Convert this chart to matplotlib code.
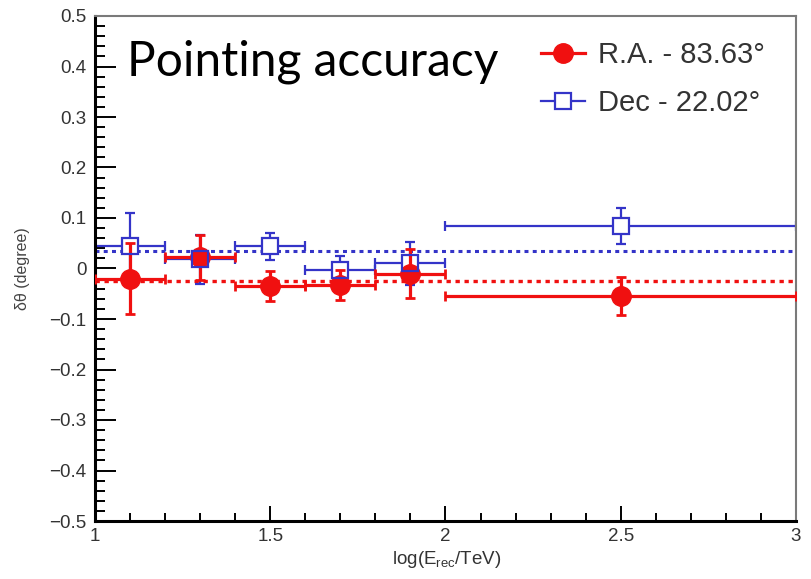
import matplotlib
matplotlib.use("Agg")
import matplotlib.pyplot as plt
from matplotlib.lines import Line2D
from matplotlib.ticker import MultipleLocator, FuncFormatter
import numpy as np

# Energy bins in log10(E_rec / TeV)
bin_lo = [1.0, 1.2, 1.4, 1.6, 1.8, 2.0]
bin_hi = [1.2, 1.4, 1.6, 1.8, 2.0, 3.0]
bin_mid = [1.1, 1.3, 1.5, 1.7, 1.9, 2.5]

# Pointing offsets (degrees)
ra_offset = [-0.020, 0.022, -0.035, -0.033, -0.010, -0.055]
ra_error = [0.070, 0.045, 0.030, 0.030, 0.048, 0.038]
dec_offset = [0.044, 0.018, 0.044, -0.003, 0.010, 0.084]
dec_error = [0.065, 0.049, 0.027, 0.027, 0.043, 0.035]

# Average offsets over all bins
ra_mean = -0.025
dec_mean = 0.034

ra_label = "R.A. - 83.63\u00b0"
dec_label = "Dec - 22.02\u00b0"

RED = "#f01010"
BLUE = "#3434c8"

plt.rcParams["font.family"] = ["Liberation Sans", "DejaVu Sans"]

fig = plt.figure(figsize=(8.12, 5.79), dpi=100)
ax = fig.add_axes([95 / 812, 1 - 521 / 579, 701 / 812, 505 / 579])

x = np.array(bin_mid)
xerr = [x - np.array(bin_lo), np.array(bin_hi) - x]

# mean offset lines
ax.plot([1, 3], [dec_mean, dec_mean], color=BLUE, lw=2.2, dashes=(1.3, 1.4), zorder=1)
ax.plot([1, 3], [ra_mean, ra_mean], color=RED, lw=2.4, dashes=(1.3, 1.4), zorder=1)

# Dec: error bars, then white square fill
ax.errorbar(x, dec_offset, xerr=xerr, yerr=dec_error, fmt="none", ecolor=BLUE,
            elinewidth=1.6, capsize=3.5, capthick=1.6, zorder=2)
ax.plot(x, dec_offset, "s", ms=12, mfc="white", mec="none", zorder=2.5)

# R.A.: error bars and filled circles
ax.errorbar(x, ra_offset, xerr=xerr, yerr=ra_error, fmt="o", color=RED, ms=14,
            mec=RED, ecolor=RED, elinewidth=2.3, capsize=3.5, capthick=2.0, zorder=3)

# Dec square outlines on top
ax.plot(x, dec_offset, "s", ms=12, mfc="none", mec=BLUE, mew=1.6, zorder=4)

ax.set_xlim(1, 3)
ax.set_ylim(-0.5, 0.5)

ax.xaxis.set_major_locator(MultipleLocator(0.5))
ax.xaxis.set_minor_locator(MultipleLocator(0.1))
ax.yaxis.set_major_locator(MultipleLocator(0.1))
ax.yaxis.set_minor_locator(MultipleLocator(0.02))

ax.xaxis.set_major_formatter(FuncFormatter(lambda v, p: f"{v:g}"))
ax.yaxis.set_major_formatter(FuncFormatter(
    lambda v, p: "0" if abs(v) < 1e-9 else f"{v:.1f}".replace("-", "\u2212")))

ax.tick_params(axis="both", which="both", direction="in", top=False, right=False,
               colors="black", labelcolor="#333333", labelsize=13.5)
ax.tick_params(axis="y", which="major", length=15, width=1.4, pad=6)
ax.tick_params(axis="y", which="minor", length=7.5, width=1.4)
ax.tick_params(axis="x", which="major", length=11, width=1.4, pad=5)
ax.tick_params(axis="x", which="minor", length=6, width=1.4)

for side in ("left", "bottom"):
    ax.spines[side].set_linewidth(2.2)
    ax.spines[side].set_color("black")
for side in ("top", "right"):
    ax.spines[side].set_linewidth(1.5)
    ax.spines[side].set_color("#7a7a7a")

ax.set_ylabel("\u03b4\u03b8 (degree)", fontsize=11.5, color="#444444")
ax.yaxis.set_label_coords(-0.093, 0.5)
ax.set_xlabel("log(E$_{\\mathregular{rec}}$/TeV)", fontsize=13.5, color="#333333")
ax.xaxis.set_label_coords(0.502, -0.055)

ax.text(0.0456, 0.883, "Pointing accuracy", transform=ax.transAxes,
        fontsize=34.5, family=["Lato", "DejaVu Sans"], color="black",
        ha="left", va="baseline")

handles = [
    Line2D([], [], color=RED, lw=2.3, marker="o", ms=14, mec=RED),
    Line2D([], [], color=BLUE, lw=1.6, marker="s", ms=12, mfc="white", mec=BLUE, mew=1.6),
]
ax.legend(handles, [ra_label, dec_label], loc="upper left",
          bbox_to_anchor=(541 / 812, 1 - 41 / 579), bbox_transform=fig.transFigure,
          frameon=False, fontsize=21, labelcolor="#333333", handlelength=1.5,
          handletextpad=0.45, borderpad=0, borderaxespad=0, labelspacing=0.68)

fig.savefig("out.png", dpi=100, facecolor="white")
